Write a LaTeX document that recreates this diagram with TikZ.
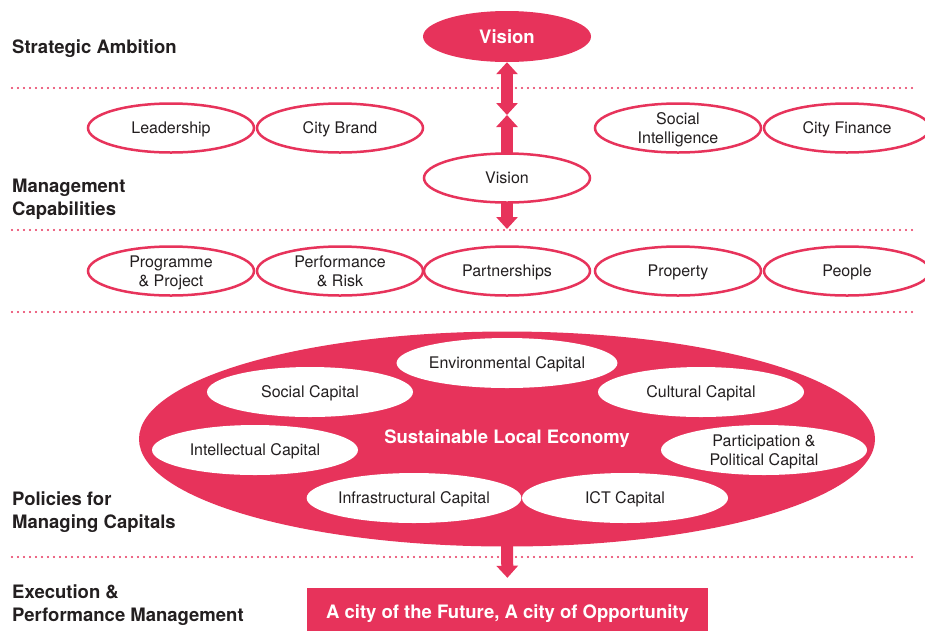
\documentclass[tikz,border=0pt]{standalone}
\usepackage{fontspec}
\setmainfont{TeX Gyre Heros}
\usetikzlibrary{shapes.geometric,arrows.meta,backgrounds}
\definecolor{cityred}{RGB}{231,51,91}
\definecolor{inktext}{RGB}{35,31,32}
\newcommand{\bodyfont}{\fontsize{16}{19}\selectfont}
\newcommand{\headfont}{\fontsize{18.5}{23}\selectfont\bfseries}

\begin{document}
\begin{tikzpicture}[x=1pt,y=-1pt,
    capab/.style={ellipse, draw=cityred, line width=2.5pt, fill=white, minimum width=166pt, minimum height=49pt, inner sep=0pt, text depth=0pt, align=center, font=\bodyfont, text=inktext},
    capital/.style={ellipse, fill=white, minimum width=206pt, minimum height=50pt, inner sep=0pt, text depth=0pt, align=center, font=\bodyfont, text=inktext},
    layer/.style={anchor=west, align=left, inner sep=0pt, font=\headfont, text=inktext},
    sepline/.style={cityred, line width=2.4pt, line cap=round, dash pattern=on 0pt off 6pt},
    fattip/.tip={Triangle[width=21pt,length=12pt]},
    fatarrow/.style={draw=cityred, line width=12pt, -fattip},
    fatboth/.style={draw=cityred, line width=12pt, fattip-fattip}]
    \useasboundingbox (0,0) rectangle (925,630);

    % Separators between the layers
    \foreach \y in {88,230,312,557} {
        \draw[sepline] (12,\y) -- (915,\y);
    }

    % Layer titles
    \node[layer] (lblstrat) at (12,49) {Strategic Ambition};
    \node[layer] (lblmgmt) at (12,199) {Management\\Capabilities};
    \node[layer] (lblpol) at (12,512) {Policies for\\Managing Capitals};
    \node[layer] (lblexec) at (12,605) {Execution \&\\Performance Management};

    % Strategic ambition
    \node[ellipse, fill=cityred, minimum width=168pt, minimum height=51pt, inner sep=0pt, text depth=0pt, font=\headfont, text=white] (vis) at (507,36.5) {Vision};

    % Management capabilities
    \node[capab] (lead) at (171,128) {Leadership};
    \node[capab] (brand) at (340,128) {City Brand};
    \node[capab] (socint) at (678,128) {Social\\Intelligence};
    \node[capab] (finance) at (847,128) {City Finance};
    \node[capab] (vis2) at (507,178) {Vision};

    \node[capab] (prog) at (171,271) {Programme\\\& Project};
    \node[capab] (perf) at (340,271) {Performance\\\& Risk};
    \node[capab] (partner) at (507,271) {Partnerships};
    \node[capab] (property) at (678,271) {Property};
    \node[capab] (people) at (847,271) {People};

    % Capitals
    \node[ellipse, fill=cityred, minimum width=736pt, minimum height=215pt, inner sep=0pt, font=\headfont, text=white] (sle) at (507,439) {Sustainable Local Economy};
    \node[capital] (envcap) at (507,363) {Environmental Capital};
    \node[capital] (soccap) at (310,392) {Social Capital};
    \node[capital] (culcap) at (701,392) {Cultural Capital};
    \node[capital] (intcap) at (255,450) {Intellectual Capital};
    \node[capital] (partcap) at (764,450) {Participation \&\\Political Capital};
    \node[capital] (infcap) at (414,498) {Infrastructural Capital};
    \node[capital] (ictcap) at (625,498) {ICT Capital};

    % Execution
    \node[fill=cityred, minimum width=401pt, minimum height=48pt, inner sep=0pt, text depth=0pt, font=\headfont, text=white] (goal) at (507.5,612) {A city of the Future, A city of Opportunity};

    % Arrows
    \coordinate (meet) at (507,115);
    \coordinate (cut) at (507,229);
    \begin{scope}[on background layer]
        \draw[fatboth] (vis.south) -- (meet);
        \draw[fatarrow] ([yshift=-4pt]vis2.north) -- (meet);
        \draw[fatarrow] ([yshift=4pt]vis2.south) -- (cut);
        \draw[fatarrow, shorten >=10pt] ([yshift=4pt]sle.south) -- (goal.north);
    \end{scope}
\end{tikzpicture}
\end{document}
